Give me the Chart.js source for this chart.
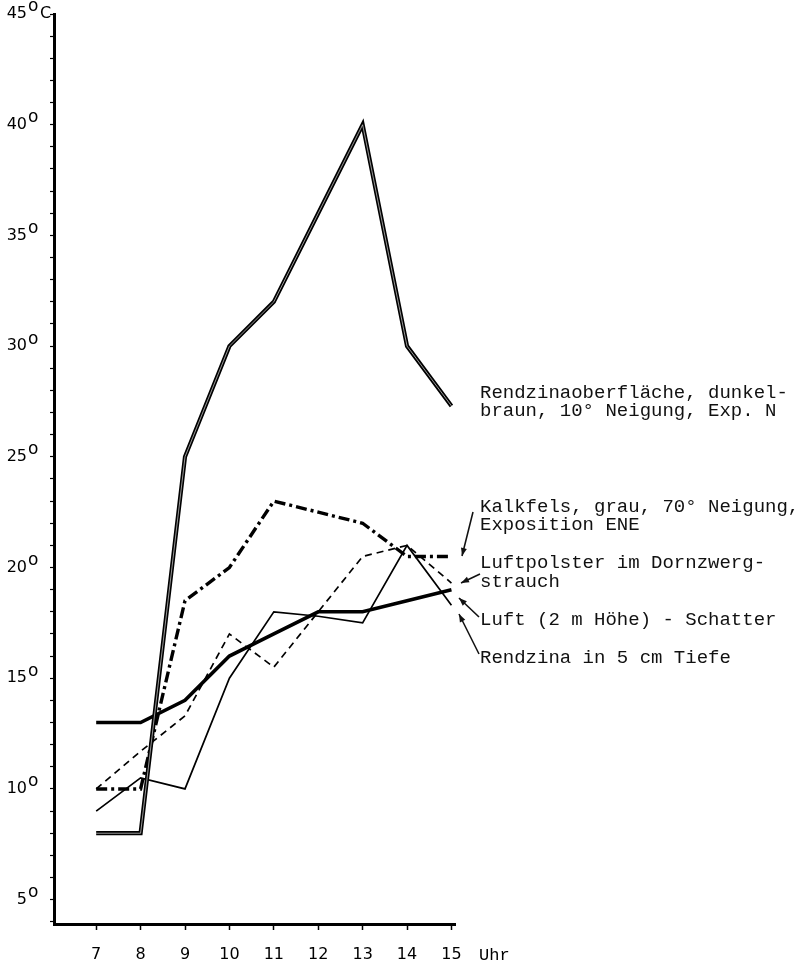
<!DOCTYPE html>
<html>
<head>
<meta charset="utf-8">
<script src="https://cdn.jsdelivr.net/npm/chart.js@4.4.0/dist/chart.umd.min.js"></script>
<style>
  html, body { margin: 0; padding: 0; background: #fff; }
  canvas { display: block; }
</style>
</head>
<body>
<canvas id="myChart" width="802" height="963"></canvas>
<script>
// Tagesgang der Temperatur, 7 - 15 Uhr
const hours = [7, 8, 9, 10, 11, 12, 13, 14, 15];
const rendzinaOberflaeche = [8, 8, 25, 30, 32, 36, 40, 30, 27.3];
const kalkfels = [10, 10, 18.5, 20, 23, 22.5, 22, 20.5, 20.5];
const luftpolster = [10, 11.7, 13.3, 17, 15.5, 18, 20.5, 21, 19.3];
const luftSchatten = [9, 10.5, 10, 15, 18, 17.8, 17.5, 21, 18.3];
const rendzina5cm = [13, 13, 14, 16, 17, 18, 18, 18.5, 19];

const yLabels = [5, 10, 15, 20, 25, 30, 35, 40];
const yTopLabel = 45;

const MONO = '"Liberation Mono", "Courier New", monospace';
const SANS = '"DejaVu Sans", sans-serif';

const pts = (arr) => arr.map((v, i) => ({ x: hours[i], y: v }));

// texts and arrows on the right side
const notes = [
  ['Rendzinaoberfläche, dunkel-', 480, 393],
  ['braun, 10° Neigung, Exp. N', 480, 411],
  ['Kalkfels, grau, 70° Neigung,', 480, 507],
  ['Exposition ENE', 480, 525],
  ['Luftpolster im Dornzwerg-', 480, 563],
  ['strauch', 480, 582],
  ['Luft (2 m Höhe) - Schatter', 480, 620],
  ['Rendzina in 5 cm Tiefe', 480, 658],
];
const arrows = [
  [473, 512, 462, 556],
  [480, 574, 461, 583],
  [479, 617, 459, 598],
  [479, 654, 459, 614],
];

const labelsPlugin = {
  id: 'labels',
  afterDraw(chart) {
    const ctx = chart.ctx;
    const y = chart.scales.y;
    ctx.save();
    ctx.fillStyle = '#000';
    ctx.textBaseline = 'middle';

    // y axis labels with raised "o"
    const all = yLabels.concat([yTopLabel]);
    all.forEach(v => {
      const py = y.getPixelForValue(v);
      ctx.font = '16px ' + SANS;
      ctx.textAlign = 'right';
      ctx.fillText(String(v), 27, py);
      ctx.textAlign = 'left';
      ctx.font = '17px ' + SANS;
      ctx.fillText('o', 28, py - 7);
      if (v === yTopLabel) {
        ctx.font = '16px ' + SANS;
        ctx.fillText('C', 40, py);
      }
    });

    // unit on x axis
    ctx.font = '17px ' + MONO;
    ctx.textAlign = 'left';
    ctx.fillText('Uhr', 479, 955);

    // annotation texts
    ctx.font = '19px ' + MONO;
    ctx.fillStyle = '#111';
    notes.forEach(n => ctx.fillText(n[0], n[1], n[2]));

    // arrows
    ctx.strokeStyle = '#111';
    ctx.lineWidth = 1.6;
    arrows.forEach(a => {
      const [x1, y1, x2, y2] = a;
      ctx.beginPath();
      ctx.moveTo(x1, y1);
      ctx.lineTo(x2, y2);
      ctx.stroke();
      const ang = Math.atan2(y2 - y1, x2 - x1);
      const L = 8, W = 3;
      ctx.beginPath();
      ctx.moveTo(x2, y2);
      ctx.lineTo(x2 - L * Math.cos(ang) + W * Math.sin(ang), y2 - L * Math.sin(ang) - W * Math.cos(ang));
      ctx.lineTo(x2 - L * Math.cos(ang) - W * Math.sin(ang), y2 - L * Math.sin(ang) + W * Math.cos(ang));
      ctx.closePath();
      ctx.fill();
    });
    ctx.restore();
  }
};

const ctx = document.getElementById('myChart');
const myChart = new Chart(ctx, {
  type: 'line',
  data: {
    datasets: [
      {
        label: 'Rendzinaoberfläche (innen)',
        data: pts(rendzinaOberflaeche),
        borderColor: 'rgba(255,255,255,0.85)',
        borderWidth: 0.7,
        order: 0,
      },
      {
        label: 'Rendzinaoberfläche, dunkelbraun, 10° Neigung, Exp. N',
        data: pts(rendzinaOberflaeche),
        borderColor: '#000',
        borderWidth: 4.2,
        order: 1,
      },
      {
        label: 'Kalkfels, grau, 70° Neigung, Exposition ENE',
        data: pts(kalkfels),
        borderColor: '#000',
        borderWidth: 3.4,
        borderDash: [11, 4, 3, 4],
        order: 2,
      },
      {
        label: 'Luftpolster im Dornzwergstrauch',
        data: pts(luftpolster),
        borderColor: '#000',
        borderWidth: 1.7,
        borderDash: [7, 5],
        order: 3,
      },
      {
        label: 'Luft (2 m Höhe) - Schatten',
        data: pts(luftSchatten),
        borderColor: '#000',
        borderWidth: 1.7,
        order: 4,
      },
      {
        label: 'Rendzina in 5 cm Tiefe',
        data: pts(rendzina5cm),
        borderColor: '#000',
        borderWidth: 3.6,
        order: 5,
      },
    ],
  },
  options: {
    responsive: false,
    animation: false,
    events: [],
    elements: {
      line: { tension: 0, borderCapStyle: 'butt', borderJoinStyle: 'miter' },
      point: { radius: 0 },
    },
    layout: {
      padding: { left: 0, top: 14, right: 347, bottom: 0 },
    },
    plugins: {
      legend: { display: false },
      tooltip: { enabled: false },
    },
    scales: {
      x: {
        type: 'linear',
        min: 6.05,
        max: 15.08,
        afterBuildTicks: (s) => { s.ticks = hours.map(v => ({ value: v })); },
        afterFit: (s) => { s.height = 39; },
        border: { display: true, color: '#000', width: 3 },
        grid: {
          display: true,
          drawOnChartArea: false,
          drawTicks: true,
          tickLength: 6,
          tickColor: '#000',
          tickWidth: 1.5,
        },
        ticks: {
          color: '#000',
          font: { family: SANS, size: 16 },
          padding: 15,
          maxRotation: 0,
          autoSkip: false,
        },
      },
      y: {
        type: 'linear',
        min: 3.9,
        max: 45,
        afterBuildTicks: (s) => {
          const t = [];
          for (let v = 4; v <= 45; v++) t.push({ value: v });
          s.ticks = t;
        },
        afterFit: (s) => { s.width = 54; },
        border: { display: true, color: '#000', width: 3 },
        grid: {
          display: true,
          drawOnChartArea: false,
          drawTicks: true,
          tickLength: 4,
          tickColor: '#000',
          tickWidth: 1.2,
        },
        ticks: {
          callback: () => '',
          autoSkip: false,
        },
      },
    },
  },
  plugins: [labelsPlugin],
});
</script>
</body>
</html>
